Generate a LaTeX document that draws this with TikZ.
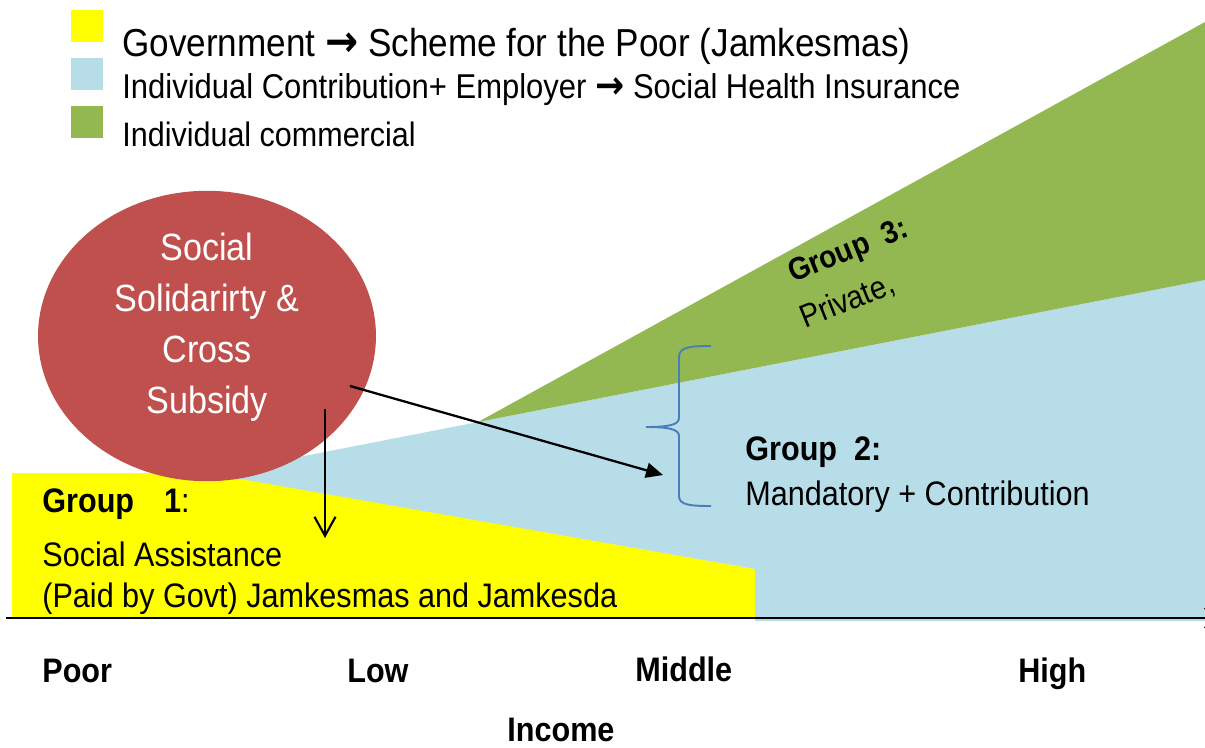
\documentclass[tikz,border=0pt]{standalone}
\usepackage{fontspec}
\setmainfont{Liberation Sans}[FakeStretch=0.9]
\newfontfamily\arrowfont{DejaVu Sans}[FakeStretch=0.9]
\usetikzlibrary{shapes.geometric,arrows.meta,calc}

\definecolor{govyellow}{HTML}{FFFF00}
\definecolor{shiblue}{HTML}{B7DDE8}
\definecolor{comgreen}{HTML}{93B751}
\definecolor{solidred}{HTML}{C0504D}
\definecolor{bracecol}{HTML}{4A7EBB}

\newcommand{\pxfont}[2]{\fontsize{#1}{#2}\selectfont}
\newcommand{\bigto}[1]{{\arrowfont\bfseries\pxfont{#1}{#1}→}}

\tikzset{
  lbl/.style={anchor=base west, inner sep=0pt, font=\pxfont{19.35pt}{23pt}},
  boldlbl/.style={lbl, font=\pxfont{19.35pt}{23pt}\bfseries},
  legbox/.style={anchor=north west, minimum size=0.64cm, inner sep=0pt},
}

\begin{document}
\begin{tikzpicture}[x=0.02cm,y=-0.02cm]
\useasboundingbox (0,0) rectangle (1205,748);

% the three income bands
\fill[govyellow] (12,473) -- (212,473) -- (755,569) -- (755,618) -- (12,618) -- cycle;
\fill[shiblue] (212,474) -- (1205,280) -- (1205,621) -- (755,621) -- (755,569) -- cycle;
\fill[comgreen] (478,422) -- (1205,22) -- (1205,280) -- cycle;

% legend
\node[legbox,fill=govyellow] (keygov) at (71,10) {};
\node[legbox,fill=shiblue] (keyshi) at (71,58) {};
\node[legbox,fill=comgreen] (keycom) at (71,106) {};
\node[lbl,font=\pxfont{22.2pt}{26pt}] (leggov) at (122,56)
  {Government \bigto{25pt} Scheme for the Poor (Jamkesmas)};
\node[lbl,font=\pxfont{19.6pt}{23pt}] (legshi) at (122,98)
  {Individual Contribution+ Employer \bigto{22pt} Social Health Insurance};
\node[lbl,font=\pxfont{19.3pt}{23pt}] (legcom) at (122,146) {Individual commercial};

% solidarity bubble
\node[ellipse,fill=solidred,minimum width=6.76cm,minimum height=4.16cm,inner sep=0pt,
  text=white,align=center,font=\pxfont{21.6pt}{29pt}] (ell) at (207,336)
  {Social\\Solidarirty \&\\Cross\\Subsidy\rule[-0.5cm]{0pt}{0pt}};

\coordinate (tipone) at (325,538);
\coordinate (tiptwo) at (663,475);
\draw[line width=1.2pt,-{Straight Barb[length=0.38cm,width=0.42cm]}]
  ($(ell.center)+(118,73)$) -- (tipone);
\draw[line width=1.3pt,-{Triangle[length=0.34cm,width=0.3cm]}]
  ($(ell.center)+(143,50)$) -- (tiptwo);

% brace for group 2
\draw[bracecol,line width=1.1pt] (711,346) .. controls (690,346) and (679,347) .. (679,357)
  -- (679,418) .. controls (679,425) and (668,427) .. (646,427)
  .. controls (668,427) and (679,429) .. (679,436)
  -- (679,496) .. controls (679,505) and (690,506) .. (711,506);

% group labels
\node[lbl] (grpone) at (42,512) {\textbf{Group\hspace{0.6cm}1}:};
\node[lbl] (grponeb) at (42,566) {Social Assistance};
\node[lbl] (grponec) at (42,607) {(Paid by Govt) Jamkesmas and Jamkesda};
\node[boldlbl] (grptwo) at (745,460) {Group~~2:};
\node[lbl] (grptwob) at (745,505) {Mandatory + Contribution};
\node[boldlbl,rotate=22,font=\pxfont{17.9pt}{20pt}\bfseries] (grpthree) at (793,283) {Group~~3:};
\node[lbl,rotate=22,font=\pxfont{18.4pt}{20pt}] (grpthreeb) at (805,329) {Private,};

% income axis
\coordinate (orig) at (6,618);
\coordinate (xend) at (1222,618);
\draw[line width=1.6pt,-{Stealth[length=0.36cm,width=0.4cm]}] (orig) -- (xend);

\node[boldlbl] (poor) at (42,682) {Poor};
\node[boldlbl] (low) at (347,682) {Low};
\node[boldlbl] (middle) at (635,681) {Middle};
\node[boldlbl] (high) at (1018,682) {High};
\node[boldlbl] (income) at (507,741) {Income};

\end{tikzpicture}
\end{document}
